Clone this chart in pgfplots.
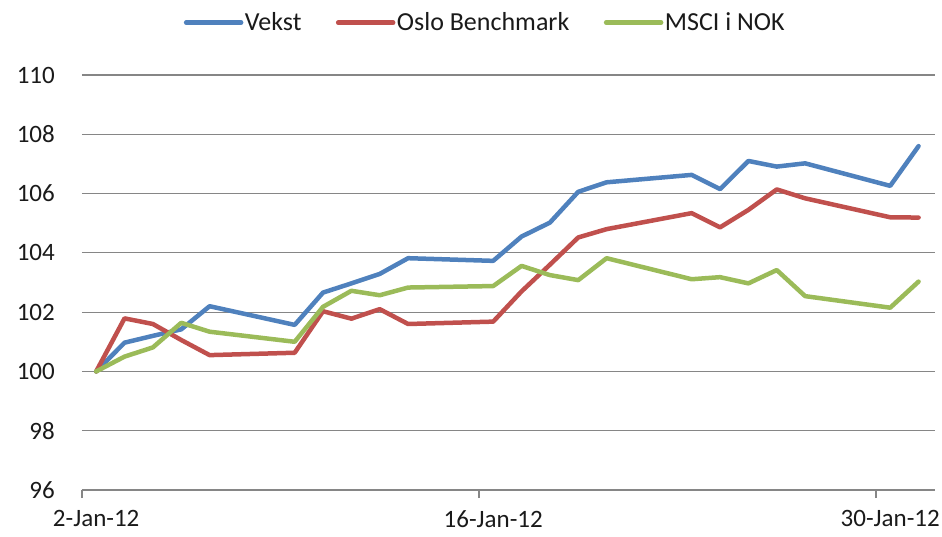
\documentclass[border=0pt]{standalone}
\usepackage{fontspec}
\setmainfont{Carlito}
\usepackage{pgfplots}
\usepackage{pgfplotstable}
\pgfplotsset{compat=1.18}
\definecolor{cVekst}{HTML}{4F81BD}
\definecolor{cOslo}{HTML}{C0504D}
\definecolor{cMSCI}{HTML}{9BBB59}
\definecolor{cGrid}{HTML}{868686}
\definecolor{cText}{HTML}{1A1A1A}
\pgfplotstableread{
d V O M
0.5 100.00 100.00 100.00
1.5 100.97 101.79 100.50
2.5 101.20 101.60 100.81
3.5 101.42 101.06 101.64
4.5 102.20 100.55 101.34
7.5 101.57 100.63 101.00
8.5 102.66 102.03 102.18
9.5 102.97 101.78 102.72
10.5 103.29 102.10 102.57
11.5 103.82 101.60 102.83
14.5 103.73 101.68 102.88
15.5 104.55 102.70 103.56
16.5 105.02 103.60 103.25
17.5 106.06 104.52 103.08
18.5 106.38 104.80 103.82
21.5 106.63 105.34 103.11
22.5 106.15 104.86 103.18
23.5 107.10 105.45 102.97
24.5 106.91 106.14 103.42
25.5 107.02 105.84 102.54
28.5 106.26 105.20 102.15
29.5 107.60 105.19 103.03
}\data
\begin{document}
\begin{tikzpicture}
\useasboundingbox (-82bp,-47bp) rectangle (860bp,490bp);
\begin{axis}[
  scale only axis, width=853bp, height=415bp,
  at={(0,0)}, anchor=south west,
  xmin=0, xmax=30.08, ymin=96, ymax=110,
  font=\fontsize{25bp}{30bp}\selectfont,
  /pgf/number format/assume math mode=true,
  axis x line=bottom, axis y line=left,
  axis line style={-, draw=cGrid, line width=1.2bp},
  y axis line style={draw=none},
  ymajorgrids, grid style={cGrid, line width=1.2bp},
  ytick={96,98,...,110}, xtick={0,14,28},
  xticklabels={2-Jan-12,16-Jan-12,30-Jan-12},
  tick align=outside,
  x tick style={cGrid, line width=1.2bp},
  xtick pos=bottom,
  major tick length=8bp,
  y tick style={draw=none},
  ticklabel style={text=cText},
  yticklabel style={inner sep=0pt, anchor=east, xshift=-19bp},
  xticklabel style={inner sep=0pt, anchor=north, xshift=14.2bp, yshift=-12bp},
  legend columns=3,
  legend style={draw=none, fill=none, at={(0.4725,1.126)}, anchor=center,
    font=\fontsize{26bp}{31bp}\selectfont, text=cText,
    nodes={inner sep=1.5bp},
    /tikz/every even column/.append style={column sep=33bp}},
  legend image code/.code={\draw[#1, line width=4.5bp] (0bp,0bp) -- (55bp,0bp);},
  every axis plot/.append style={line width=4.5bp, line join=round, line cap=round},
]
\addplot[cVekst] table[x=d, y=V] {\data};
\addlegendentry{Vekst}
\addplot[cOslo] table[x=d, y=O] {\data};
\addlegendentry{Oslo Benchmark}
\addplot[cMSCI] table[x=d, y=M] {\data};
\addlegendentry{MSCI i NOK}
\end{axis}
\end{tikzpicture}
\end{document}
